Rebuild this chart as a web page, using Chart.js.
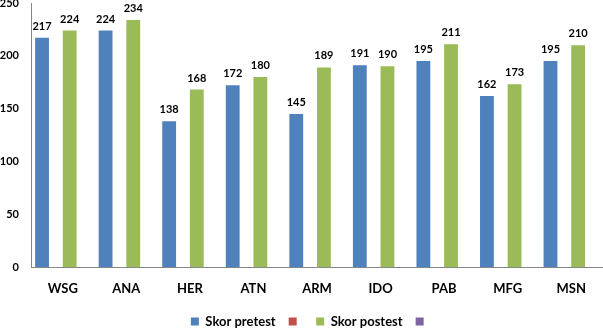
<!DOCTYPE html>
<html>
<head>
<meta charset="utf-8">
<script src="https://cdn.jsdelivr.net/npm/chart.js@4/dist/chart.umd.min.js"></script>
<style>
  html, body { margin: 0; padding: 0; background: #fff; }
  #wrap { width: 603px; height: 333px; }
</style>
</head>
<body>
<div id="wrap"><canvas id="myChart" width="603" height="333"></canvas></div>
<script>
const categories = ['WSG', 'ANA', 'HER', 'ATN', 'ARM', 'IDO', 'PAB', 'MFG', 'MSN'];
const pretest = [217, 224, 138, 172, 145, 191, 195, 162, 195];
const postest = [224, 234, 168, 180, 189, 190, 211, 173, 210];
// two empty series that only show up in the legend
const emptySeries = [null, null, null, null, null, null, null, null, null];
const yTicks = [0, 50, 100, 150, 200, 250];

const fontFamily = 'Lato, "Open Sans", sans-serif';

// numbers on top of every bar
const barLabels = {
  id: 'barLabels',
  afterDatasetsDraw(chart) {
    const ctx = chart.ctx;
    ctx.save();
    ctx.font = 'bold 11px ' + fontFamily;
    ctx.fillStyle = '#000';
    ctx.textAlign = 'center';
    ctx.textBaseline = 'bottom';
    chart.data.datasets.forEach((ds, i) => {
      const meta = chart.getDatasetMeta(i);
      meta.data.forEach((bar, j) => {
        const v = ds.data[j];
        if (v == null) return;
        ctx.fillText(v, bar.x, bar.y - 6);
      });
    });
    ctx.restore();
  }
};

// legend sits a little right of centre in the original
const legendShift = {
  id: 'legendShift',
  afterLayout(chart) {
    chart.legend.left += 9;
    chart.legend.right += 9;
  }
};

const ctx = document.getElementById('myChart');
const myChart = new Chart(ctx, {
  type: 'bar',
  data: {
    labels: categories,
    datasets: [
      { label: 'Skor pretest', data: pretest, backgroundColor: '#4F81BD' },
      { label: '', data: emptySeries, backgroundColor: '#C0504D' },
      { label: 'Skor postest', data: postest, backgroundColor: '#9BBB59' },
      { label: '', data: emptySeries, backgroundColor: '#8064A2' }
    ]
  },
  options: {
    responsive: false,
    animation: false,
    datasets: {
      bar: { barPercentage: 1, categoryPercentage: 0.87 }
    },
    layout: { padding: { top: 3, right: 0, left: 0, bottom: -5 } },
    plugins: {
      tooltip: { enabled: false },
      legend: {
        position: 'bottom',
        labels: {
          boxWidth: 8,
          boxHeight: 8,
          padding: 13,
          color: '#000',
          font: { family: fontFamily, size: 13, weight: 'bold' }
        }
      }
    },
    scales: {
      x: {
        grid: { display: false, drawTicks: false },
        border: { display: true, color: '#868686' },
        ticks: {
          color: '#000',
          padding: 14,
          font: { family: fontFamily, size: 13, weight: 'bold' }
        },
        afterFit: s => { s.height = 35; }
      },
      y: {
        min: 0,
        max: 250,
        grid: { display: false, drawTicks: false },
        border: { display: true, color: '#868686' },
        afterBuildTicks: s => { s.ticks = yTicks.map(v => ({ value: v })); },
        ticks: {
          color: '#000',
          padding: 12,
          font: { family: fontFamily, size: 11, weight: 'bold' }
        },
        afterFit: s => { s.width = 31; s.paddingTop = 0; s.paddingBottom = 0; }
      }
    }
  },
  plugins: [barLabels, legendShift]
});
</script>
</body>
</html>
